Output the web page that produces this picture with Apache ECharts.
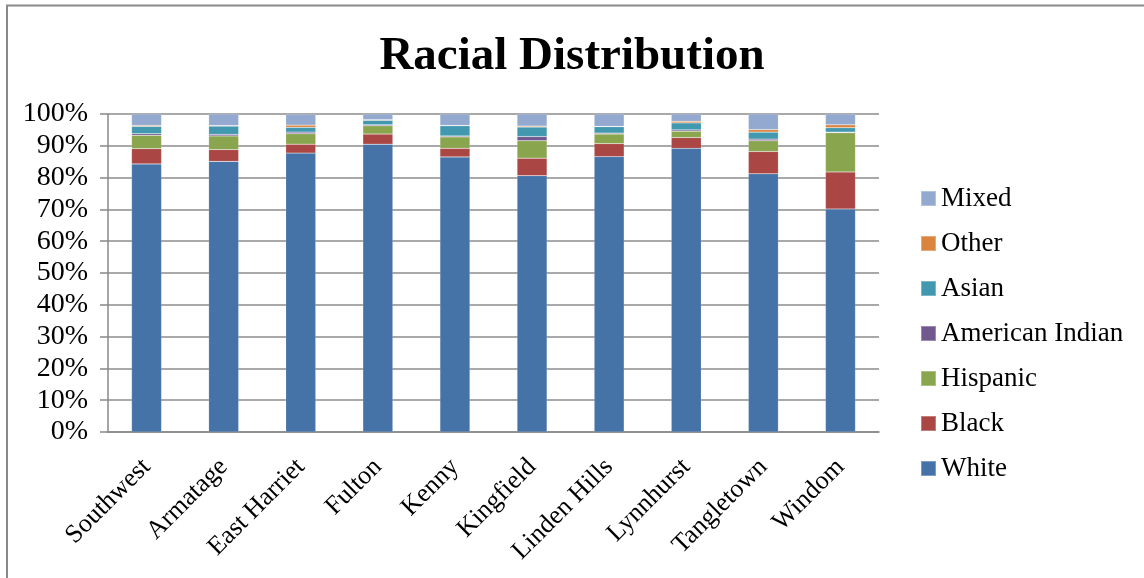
<!doctype html>
<html>
<head>
	<meta charset="utf-8">
	<title>Racial Distribution</title>
	<script src="https://cdn.jsdelivr.net/npm/echarts@6/dist/echarts.min.js"></script>
	<style>
		html, body { margin: 0; padding: 0; background: #fff; }
		#container { width: 1144px; height: 578px; }
	</style>
</head>
<body>
	<div id="container"></div>
<script type="text/javascript">
	// neighbourhoods
	var neighborhoods = ['Southwest', 'Armatage', 'East Harriet', 'Fulton', 'Kenny', 'Kingfield', 'Linden Hills', 'Lynnhurst', 'Tangletown', 'Windom'];
	// shares in percent
	var white    = [84.3, 85.1, 87.7, 90.5, 86.5, 80.6, 86.6, 89.2, 81.2, 70.1];
	var black    = [4.8, 3.7, 2.8, 3.2, 2.7, 5.5, 4.1, 3.4, 7.0, 11.7];
	var hispanic = [4.2, 4.3, 3.3, 2.6, 3.6, 5.5, 3.0, 2.0, 3.4, 12.3];
	var amIndian = [0.5, 0.5, 0.5, 0.3, 0.3, 1.3, 0.3, 0.4, 0.5, 0.2];
	var asian    = [2.3, 2.6, 1.5, 1.4, 3.2, 3.0, 2.0, 2.2, 2.2, 1.4];
	var other    = [0.3, 0.2, 0.7, 0.2, 0.1, 0.3, 0.1, 0.5, 0.8, 0.9];
	var mixed    = [3.6, 3.6, 3.4, 1.8, 3.6, 3.8, 3.9, 2.3, 4.9, 3.4];
	var yTicks   = [0, 10, 20, 30, 40, 50, 60, 70, 80, 90, 100];

	var font = 'Liberation Serif, Times New Roman, serif';

	var groups = [
		{ name: 'White', data: white, color: '#4572A7' },
		{ name: 'Black', data: black, color: '#AA4643' },
		{ name: 'Hispanic', data: hispanic, color: '#89A54E' },
		{ name: 'American Indian', data: amIndian, color: '#71588F' },
		{ name: 'Asian', data: asian, color: '#4198AF' },
		{ name: 'Other', data: other, color: '#DB843D' },
		{ name: 'Mixed', data: mixed, color: '#93A9CF' }
	];

	var series = groups.map(function(g) {
		return {
			name: g.name,
			type: 'bar',
			stack: 'total',
			data: g.data,
			barWidth: 30,
			itemStyle: {
				color: g.color,
				borderColor: 'rgba(255,255,255,0.3)',
				borderWidth: 0.5
			}
		};
	});

	var option = {
		animation: false,
		backgroundColor: '#fff',
		title: {
			text: 'Racial Distribution',
			left: 'center',
			top: 28,
			textStyle: {
				fontFamily: font,
				fontSize: 47,
				fontWeight: 'bold',
				color: '#000'
			}
		},
		legend: {
			orient: 'vertical',
			left: 915,
			top: 180,
			itemWidth: 15,
			itemHeight: 15,
			itemGap: 18,
			icon: 'rect',
			data: groups.map(function(g) { return g.name; }).reverse(),
			textStyle: {
				fontFamily: font,
				fontSize: 27,
				color: '#000'
			}
		},
		grid: {
			left: 108,
			right: 265,
			top: 114,
			bottom: 146
		},
		xAxis: {
			type: 'category',
			data: neighborhoods,
			axisLine: { lineStyle: { color: '#888', width: 1.5 } },
			axisTick: { length: 6, lineStyle: { color: '#888', width: 1.5 } },
			axisLabel: {
				rotate: 45,
				margin: 31,
				interval: 0,
				fontFamily: font,
				fontSize: 26,
				color: '#000'
			}
		},
		yAxis: {
			type: 'value',
			min: yTicks[0],
			max: yTicks[yTicks.length - 1],
			interval: 10,
			axisLine: { show: true, lineStyle: { color: '#888', width: 1.5 } },
			axisTick: { show: true, length: 8, lineStyle: { color: '#888', width: 1.5 } },
			splitLine: { lineStyle: { color: '#8c8c8c', width: 1.5 } },
			axisLabel: {
				margin: 20,
				formatter: '{value}%',
				fontFamily: font,
				fontSize: 28,
				color: '#000'
			}
		},
		graphic: [{
			type: 'rect',
			shape: { x: 7, y: 5.5, width: 1300, height: 700 },
			style: { fill: null, stroke: '#8a8a8a', lineWidth: 2 },
			silent: true
		}],
		series: series
	};

	var myChart = echarts.init(document.getElementById('container'));
	myChart.setOption(option);
</script>
</body>
</html>
